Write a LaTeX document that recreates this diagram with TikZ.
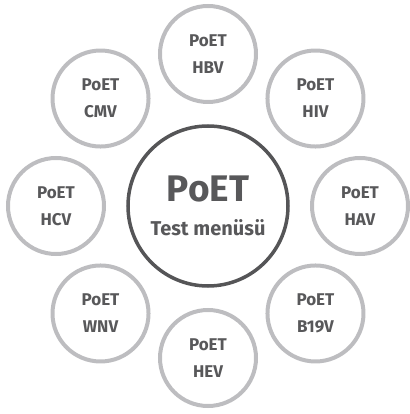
\documentclass[tikz,border=0pt]{standalone}
\usepackage{fontspec}
\setmainfont{Fira Sans}
\usepackage{xcolor}
\usepackage{tikz}
\usetikzlibrary{positioning}

\definecolor{ringgrey}{HTML}{BDBDC0}
\definecolor{hubgrey}{HTML}{555557}
\definecolor{textgrey}{HTML}{58585A}

\begin{document}
\begin{tikzpicture}[x=1pt,y=1pt]
        \tikzset{virus/.style={draw=ringgrey, circle, line width=4pt, minimum size=96pt, inner sep=0pt,
                align=center, text=textgrey, font=\bfseries\fontsize{17}{27}\selectfont},
        hub/.style={draw=hubgrey, circle, line width=3.5pt, minimum size=160pt, inner sep=0pt,
                align=center, text=textgrey, font=\bfseries\fontsize{20}{34}\selectfont},
        }
        \useasboundingbox (-208,-208) rectangle (201,206);
        \node [hub] (menu) at (0,0) {{\fontsize{37}{34}\selectfont PoET}\\Test menüsü};
        \node [virus] (hbv) at (90:152) {PoET\\HBV};
        \node [virus] (hiv) at (45:152) {PoET\\HIV};
        \node [virus] (hav) at (0:152) {PoET\\HAV};
        \node [virus] (b19v) at (-45:152) {PoET\\B19V};
        \node [virus] (hev) at (-90:152) {PoET\\HEV};
        \node [virus] (wnv) at (-135:152) {PoET\\WNV};
        \node [virus] (hcv) at (180:152) {PoET\\HCV};
        \node [virus] (cmv) at (135:152) {PoET\\CMV};
    \end{tikzpicture}
\end{document}
